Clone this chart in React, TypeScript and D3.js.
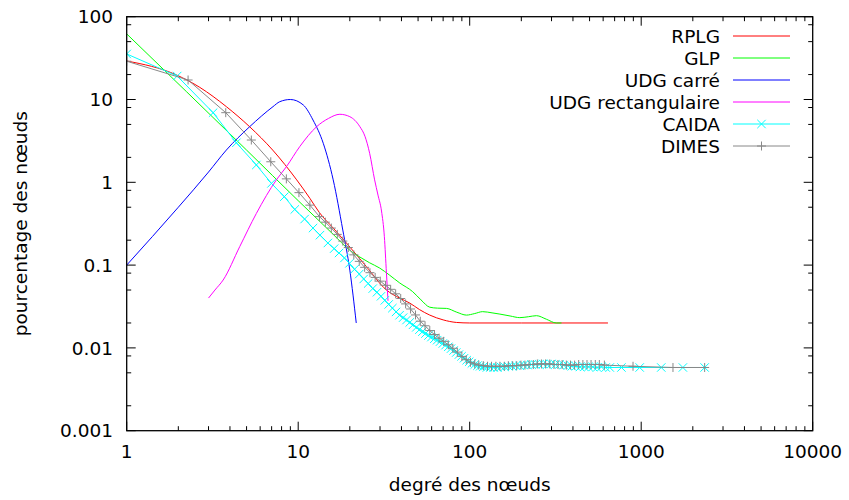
import React from "react";
import * as d3 from "d3";

// ---------- data (degree, percentage of nodes) ----------
const rplg: [number, number][] = [
  [1, 29.2], [1.95, 19.8], [2.67, 14.0], [3.81, 8.2], [5.21, 4.69], [7.1, 2.45],
  [9.8, 1.07], [11.7, 0.64], [13.3, 0.43], [16, 0.28], [19.1, 0.185], [25, 0.0957],
  [32.7, 0.05], [39, 0.04], [44.7, 0.0348], [51, 0.029], [58.5, 0.0249], [70, 0.0218],
  [83.6, 0.0203], [100, 0.02], [200, 0.02], [640, 0.02],
];

const glp: [number, number][] = [
  [1, 62], [5, 2.45], [10, 0.6], [16, 0.235], [19.9, 0.152], [22.9, 0.125], [26, 0.107],
  [29.9, 0.092], [34, 0.076], [39.1, 0.0608], [46.5, 0.0478], [52, 0.038], [58.5, 0.031],
  [65, 0.0302], [73.1, 0.03], [84, 0.027], [95.7, 0.0249], [107, 0.026], [119, 0.0274],
  [135, 0.0265], [150, 0.0256], [172, 0.0243], [196, 0.0232], [220, 0.0238], [245, 0.0245],
  [280, 0.0222], [320, 0.02], [343, 0.02],
];

const udgCarre: [number, number][] = [
  [1, 0.1], [2, 0.5], [3, 1.33], [3.81, 2.45], [5.21, 4.69], [7.13, 8.2],
  [7.8, 9.4], [9.0, 10], [10.7, 8.6], [12.2, 5.65], [14, 2.96], [16, 1.07],
  [18.2, 0.265], [20, 0.087], [21.8, 0.02],
];

const udgRect: [number, number][] = [
  [3, 0.04], [3.27, 0.05], [3.65, 0.066], [4.56, 0.167], [5.7, 0.42], [7.46, 1.07],
  [8.53, 1.54], [10.2, 2.69], [12.8, 4.69], [15, 5.9], [17.5, 6.63], [20, 6.2],
  [22.9, 4.69], [24.5, 3.6], [26.1, 2.24], [27.9, 1.07], [29.2, 0.7], [30.6, 0.45],
  [31.8, 0.22], [32.7, 0.08], [33.4, 0.037],
];

const caida: [number, number][] = [
  [1, 35.5], [1.97, 19.2], [3.19, 6.93], [4.36, 3.0], [5.7, 1.62], [6.98, 0.97],
  [8.3, 0.67], [9.55, 0.47], [10.9, 0.36], [12.2, 0.28], [13.4, 0.23], [14.9, 0.185],
  [16.2, 0.158], [17.3, 0.14], [18.6, 0.122], [19.9, 0.105], [21.3, 0.089], [22.7, 0.078],
  [24.1, 0.068], [25.6, 0.06], [27.2, 0.052], [28.8, 0.047], [30.4, 0.042], [32, 0.0375],
  [33.7, 0.0335], [35.4, 0.0302], [37.2, 0.0272], [39, 0.0248], [40.9, 0.0232], [42.8, 0.0217],
  [44.7, 0.0203], [46.7, 0.019], [48.8, 0.0177], [50.9, 0.0166], [53, 0.0157], [55.2, 0.0149],
  [57.5, 0.0141], [59.8, 0.0135], [62.2, 0.0129], [64.6, 0.0124], [67.1, 0.0119], [69.7, 0.0113],
  [72.3, 0.0108], [75, 0.0103], [77.8, 0.0098], [80.6, 0.0093], [83.5, 0.0088], [86.5, 0.0083],
  [89.6, 0.0079], [92.7, 0.0075], [96, 0.0071], [99.3, 0.0068], [103, 0.0065], [107, 0.0063],
  [111, 0.0061], [115, 0.006], [120, 0.0059], [126, 0.0058], [132, 0.0058], [138, 0.0058],
  [145, 0.0058], [152, 0.0059], [160, 0.0059], [168, 0.006], [177, 0.006], [186, 0.0061],
  [196, 0.0061], [206, 0.0062], [217, 0.0062], [229, 0.0063], [241, 0.0063], [254, 0.0063],
  [268, 0.0064], [283, 0.0063], [299, 0.0064], [316, 0.0063], [334, 0.0063], [353, 0.0062],
  [373, 0.0061], [394, 0.006], [416, 0.006], [440, 0.0059], [466, 0.0059], [493, 0.0059],
  [522, 0.0059], [553, 0.0058], [586, 0.0059], [621, 0.0058], [656, 0.0058], [767, 0.0058],
  [980, 0.0058], [1309, 0.0058], [1750, 0.0058], [2344, 0.0058],
];

const dimes: [number, number][] = [
  [1, 29], [2.28, 17.2], [3.78, 6.93], [5.33, 3.24], [6.92, 1.77], [8.53, 1.1],
  [10.1, 0.75], [11.7, 0.53], [13.3, 0.385], [14.4, 0.33], [15.6, 0.28], [16.9, 0.235],
  [18.2, 0.195], [19.6, 0.163], [21.1, 0.133], [22.7, 0.111], [24.4, 0.094], [26.2, 0.081],
  [28.1, 0.071], [30.1, 0.064], [32.3, 0.057], [34.6, 0.051], [37, 0.045], [39.6, 0.0395],
  [42.3, 0.034], [45.2, 0.0295], [48.3, 0.025], [51.5, 0.021], [54.9, 0.0185], [58.5, 0.0162],
  [62.3, 0.0145], [66.3, 0.0131], [70.5, 0.012], [75, 0.0109], [79.7, 0.0099], [84.7, 0.0089],
  [90, 0.0079], [95.5, 0.0072], [101, 0.0067], [107, 0.0064], [113, 0.0062], [120, 0.0061],
  [127, 0.006], [134, 0.006], [142, 0.006], [150, 0.006], [159, 0.006], [168, 0.0061],
  [178, 0.0061], [188, 0.0061], [199, 0.0062], [210, 0.0062], [222, 0.0063], [235, 0.0063],
  [248, 0.0064], [262, 0.0064], [277, 0.0064], [293, 0.0064], [310, 0.0063], [327, 0.0063],
  [346, 0.0063], [366, 0.0062], [387, 0.0062], [409, 0.0062], [432, 0.0063], [457, 0.0063],
  [483, 0.0063], [510, 0.0063], [540, 0.0063], [570, 0.0063], [610, 0.0062], [896, 0.006],
  [1532, 0.0058], [2344, 0.0058],
];

const seriesNames = ["RPLG", "GLP", "UDG carré", "UDG rectangulaire", "CAIDA", "DIMES"];
const seriesColors = ["#ff0000", "#00ff00", "#0000ff", "#ff00ff", "#00ffff", "#888888"];

const xTicks = [1, 10, 100, 1000, 10000];
const xTickLabels = ["1", "10", "100", "1000", "10000"];
const yTicks = [0.001, 0.01, 0.1, 1, 10, 100];
const yTickLabels = ["0.001", "0.01", "0.1", "1", "10", "100"];
const xMinorSteps = [2, 3, 4, 5, 6, 7, 8, 9];
const yMinorSteps = [2, 5, 8];

const xTitle = "degré des nœuds";
const yTitle = "pourcentage des nœuds";

// ---------- layout ----------
const W = 849;
const H = 500;
const PL = 126.7;
const PR = 812.7;
const PT = 16.7;
const PB = 430.7;
const FONT = "'DejaVu Sans', sans-serif";
const FS = 18.5;
const MAJ = 9;
const MIN = 4.5;

export default function App() {
  const x = d3.scaleLog().domain([1, 10000]).range([PL, PR]);
  const y = d3.scaleLog().domain([0.001, 100]).range([PB, PT]);

  const smooth = d3
    .line<[number, number]>()
    .x((d) => x(d[0]))
    .y((d) => y(d[1]))
    .curve(d3.curveMonotoneX);
  const straight = d3
    .line<[number, number]>()
    .x((d) => x(d[0]))
    .y((d) => y(d[1]));

  const xMinor: number[] = [];
  xTicks.slice(0, -1).forEach((t) => xMinorSteps.forEach((m) => xMinor.push(t * m)));
  const yMinor: number[] = [];
  yTicks.slice(0, -1).forEach((t) => yMinorSteps.forEach((m) => yMinor.push(t * m)));

  const tickColor = "#000";

  const cross = (cx: number, cy: number, color: string, key: string) => (
    <g key={key} stroke={color} strokeWidth={1}>
      <line x1={cx - 4.2} y1={cy - 4.2} x2={cx + 4.2} y2={cy + 4.2} />
      <line x1={cx - 4.2} y1={cy + 4.2} x2={cx + 4.2} y2={cy - 4.2} />
    </g>
  );
  const plus = (cx: number, cy: number, color: string, key: string) => (
    <g key={key} stroke={color} strokeWidth={1}>
      <line x1={cx - 4.5} y1={cy} x2={cx + 4.5} y2={cy} />
      <line x1={cx} y1={cy - 4.5} x2={cx} y2={cy + 4.5} />
    </g>
  );

  const legendX = 720;
  const legendLine0 = 733;
  const legendLine1 = 790;
  const legendY0 = 36;
  const legendStep = 22;

  return (
    <svg
      width={W}
      height={H}
      style={{ position: "absolute", left: 0, top: 0, display: "block" }}
      fontFamily={FONT}
      fontSize={FS}
    >
      <rect x={0} y={0} width={W} height={H} fill="#fff" />
      <defs>
        <clipPath id="plotClip">
          <rect x={PL} y={PT} width={PR - PL} height={PB - PT} />
        </clipPath>
      </defs>

      {/* ticks */}
      <g stroke={tickColor} strokeWidth={1}>
        {xTicks.map((t) => (
          <g key={"xt" + t}>
            <line x1={x(t)} x2={x(t)} y1={PB} y2={PB - MAJ} />
            <line x1={x(t)} x2={x(t)} y1={PT} y2={PT + MAJ} />
          </g>
        ))}
        {xMinor.map((t) => (
          <g key={"xm" + t}>
            <line x1={x(t)} x2={x(t)} y1={PB} y2={PB - MIN} />
            <line x1={x(t)} x2={x(t)} y1={PT} y2={PT + MIN} />
          </g>
        ))}
        {yTicks.map((t) => (
          <g key={"yt" + t}>
            <line x1={PL} x2={PL + MAJ} y1={y(t)} y2={y(t)} />
            <line x1={PR} x2={PR - MAJ} y1={y(t)} y2={y(t)} />
          </g>
        ))}
        {yMinor.map((t) => (
          <g key={"ym" + t}>
            <line x1={PL} x2={PL + MIN} y1={y(t)} y2={y(t)} />
            <line x1={PR} x2={PR - MIN} y1={y(t)} y2={y(t)} />
          </g>
        ))}
      </g>

      {/* tick labels */}
      <g fill="#000">
        {xTicks.map((t, i) => (
          <text key={"xl" + t} x={x(t)} y={458} textAnchor="middle">
            {xTickLabels[i]}
          </text>
        ))}
        {yTicks.map((t, i) => (
          <text key={"yl" + t} x={113} y={y(t) + 6.7} textAnchor="end">
            {yTickLabels[i]}
          </text>
        ))}
      </g>

      {/* series */}
      <g clipPath="url(#plotClip)" fill="none" strokeWidth={1}>
        <path d={smooth(rplg) || ""} stroke={seriesColors[0]} />
        <path d={smooth(glp) || ""} stroke={seriesColors[1]} />
        <path d={smooth(udgCarre) || ""} stroke={seriesColors[2]} />
        <path d={smooth(udgRect) || ""} stroke={seriesColors[3]} />
        <path d={straight(caida) || ""} stroke={seriesColors[4]} />
        {caida.map((d, i) => cross(x(d[0]), y(d[1]), seriesColors[4], "c" + i))}
        <path d={straight(dimes) || ""} stroke={seriesColors[5]} />
        {dimes.map((d, i) => plus(x(d[0]), y(d[1]), seriesColors[5], "d" + i))}
      </g>

      {/* frame */}
      <rect
        x={PL}
        y={PT}
        width={PR - PL}
        height={PB - PT}
        fill="none"
        stroke="#000"
        strokeWidth={1.3}
      />

      {/* legend */}
      <g>
        {seriesNames.map((name, i) => {
          const ly = legendY0 + i * legendStep;
          return (
            <g key={"lg" + i}>
              <text x={legendX} y={ly + 6.7} textAnchor="end" fill="#000">
                {name}
              </text>
              <line
                x1={legendLine0}
                x2={legendLine1}
                y1={ly}
                y2={ly}
                stroke={seriesColors[i]}
                strokeWidth={1}
              />
              {i === 4 && cross((legendLine0 + legendLine1) / 2, ly, seriesColors[i], "lc")}
              {i === 5 && plus((legendLine0 + legendLine1) / 2, ly, seriesColors[i], "lp")}
            </g>
          );
        })}
      </g>

      {/* axis titles */}
      <text x={(PL + PR) / 2} y={491} textAnchor="middle" fill="#000">
        {xTitle}
      </text>
      <text
        transform={`translate(27, ${(PT + PB) / 2}) rotate(-90)`}
        textAnchor="middle"
        fill="#000"
      >
        {yTitle}
      </text>
    </svg>
  );
}
